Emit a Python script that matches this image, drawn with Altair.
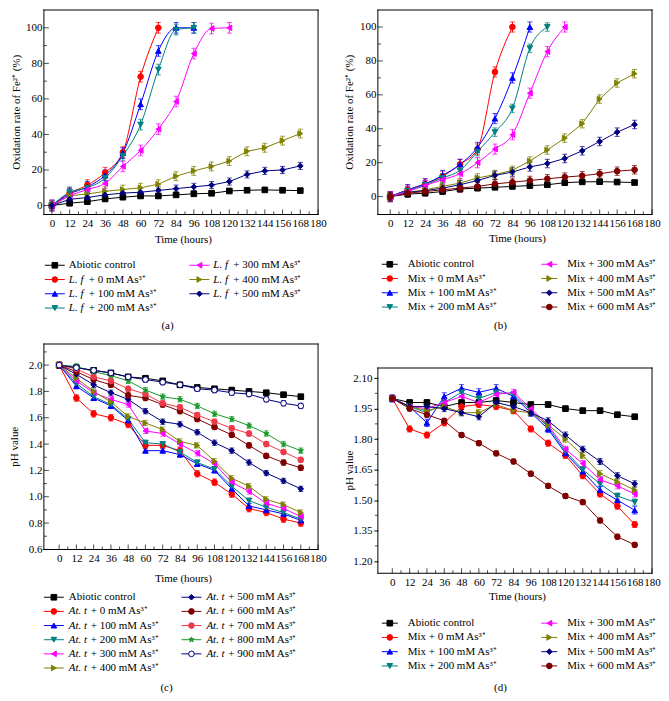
import altair as alt
import pandas as pd

FONT = "Liberation Serif"
FS = 11
T = [0, 12, 24, 36, 48, 60, 72, 84, 96, 108, 120, 132, 144, 156, 168]
X_TICKS = list(range(0, 181, 12))
X_MINOR = list(range(6, 180, 12))

BLACK, RED, BLUE, TEAL = "#000000", "#FF0000", "#0000FF", "#008080"
MAGENTA, OLIVE, NAVY, WINE = "#FF00FF", "#808000", "#000080", "#800000"
SALMON, GREEN = "#EE3B4B", "#1A9A2A"
STAR = ("M0,-1L0.2245,-0.309L0.9511,-0.309L0.3633,0.118L0.5878,0.809L0,0.382"
        "L-0.5878,0.809L-0.3633,0.118L-0.9511,-0.309L-0.2245,-0.309Z")

# ---------------- Panel (a): L. f, Fe2+ oxidation rate ----------------
A_PREFIX = ["", "L. f", "L. f", "L. f", "L. f", "L. f", "L. f"]
A_REST = ["Abiotic control", "+ 0 mM As³⁺", "+ 100 mM As³⁺", "+ 200 mM As³⁺",
          "+ 300 mM As³⁺", "+ 400 mM As³⁺", "+ 500 mM As³⁺"]
A_CTRL = [0, 1.3, 2.2, 3.7, 4.7, 5.4, 5.4, 6.0, 6.6, 6.9, 8.2, 8.6, 8.8, 8.6, 8.4]
A_0 = [0, 7, 11.5, 18.5, 30, 72.5, 100]
A_100 = [0, 6.5, 10.5, 17, 29.5, 57, 87, 100, 100]
A_200 = [0, 7.5, 10, 15.5, 28, 45.5, 76.5, 99, 100]
A_300 = [0, 5.5, 9, 12.5, 22, 31, 43, 58.5, 85.5, 99.6, 100]
A_400 = [0, 5.5, 6.5, 8, 9, 10, 12, 16.5, 19.5, 22, 25, 30.5, 32.5, 36.5, 40.5]
A_500 = [0, 3.5, 4.5, 6, 7, 7.5, 8.5, 9.5, 10.5, 11.5, 13.5, 17.5, 19.5, 20, 22.3]
A_ERR = [0.8, 3, 3, 3, 3, 2.5, 2]

# ---------------- Panel (b): Mix, Fe2+ oxidation rate ----------------
B_REST = ["Abiotic control", "Mix + 0 mM As³⁺", "Mix + 100 mM As³⁺", "Mix + 200 mM As³⁺",
          "Mix + 300 mM As³⁺", "Mix + 400 mM As³⁺", "Mix + 500 mM As³⁺", "Mix + 600 mM As³⁺"]
B_CTRL = [0, 1.5, 2, 3, 4.5, 5, 5.5, 6, 6.5, 7, 8.2, 8.7, 8.8, 8.6, 8.3]
B_0 = [0, 4, 7.5, 12, 19, 28, 73.5, 100]
B_100 = [0, 4, 7.5, 12.5, 19, 29, 46, 70, 100]
B_200 = [0, 3.5, 7, 11, 15.5, 26.5, 38, 52, 87.5, 100]
B_300 = [0, 3, 6.5, 10, 13.5, 20, 28, 36.5, 61, 85.5, 100]
B_400 = [0, 2.5, 4, 6, 8, 11, 13, 15.5, 21, 27.5, 34.5, 43, 57.5, 67, 72.5]
B_500 = [0, 2.5, 3.5, 5, 7, 9.5, 12.5, 14.5, 17.5, 19.5, 22.5, 27, 32.5, 38, 42.5]
B_600 = [0, 2, 3, 4, 5, 6, 7.5, 8.5, 9.5, 10.5, 11.5, 12.3, 13.5, 15, 15.8]
B_ERR = [0.8, 3, 3, 2.5, 3, 2.5, 2.5, 2.5]

# ---------------- Panel (c): At. t, pH ----------------
C_PREFIX = [""] + ["At. t"] * 10
C_REST = ["Abiotic control"] + ["+ %d mM As³⁺" % c for c in (0, 100, 200, 300, 400, 500, 600, 700, 800, 900)]
C_CTRL = [2.0, 1.98, 1.96, 1.94, 1.91, 1.90, 1.88, 1.85, 1.83, 1.82, 1.81, 1.80, 1.79, 1.775, 1.76]
C_0 = [2.0, 1.75, 1.63, 1.60, 1.55, 1.39, 1.39, 1.35, 1.175, 1.11, 1.02, 0.91, 0.88, 0.83, 0.80]
C_100 = [2.0, 1.84, 1.75, 1.69, 1.58, 1.35, 1.35, 1.32, 1.25, 1.20, 1.06, 0.93, 0.90, 0.87, 0.82]
C_200 = [2.0, 1.86, 1.76, 1.70, 1.59, 1.41, 1.40, 1.34, 1.26, 1.21, 1.08, 0.97, 0.92, 0.88, 0.83]
C_300 = [2.0, 1.88, 1.79, 1.74, 1.70, 1.50, 1.48, 1.40, 1.33, 1.25, 1.11, 1.04, 0.95, 0.91, 0.85]
C_400 = [2.0, 1.90, 1.80, 1.72, 1.61, 1.56, 1.51, 1.42, 1.39, 1.27, 1.14, 1.08, 0.98, 0.94, 0.88]
C_500 = [2.0, 1.93, 1.85, 1.79, 1.74, 1.65, 1.57, 1.55, 1.49, 1.41, 1.35, 1.26, 1.18, 1.12, 1.06]
C_600 = [2.0, 1.95, 1.89, 1.85, 1.77, 1.75, 1.70, 1.65, 1.59, 1.53, 1.47, 1.39, 1.31, 1.26, 1.22]
C_700 = [2.0, 1.97, 1.91, 1.88, 1.82, 1.78, 1.71, 1.68, 1.62, 1.57, 1.52, 1.48, 1.40, 1.34, 1.28]
C_800 = [2.0, 1.99, 1.95, 1.92, 1.88, 1.81, 1.76, 1.74, 1.69, 1.63, 1.59, 1.54, 1.48, 1.40, 1.35]
C_900 = [2.0, 1.98, 1.96, 1.94, 1.91, 1.89, 1.87, 1.85, 1.82, 1.81, 1.79, 1.78, 1.74, 1.71, 1.69]
C_ERR = [0.015, 0.025, 0.02, 0.02, 0.02, 0.02, 0.02, 0.02, 0.02, 0.02, 0.02]

# ---------------- Panel (d): Mix, pH ----------------
D_REST = B_REST
D_CTRL = [2.00, 1.98, 1.98, 1.96, 1.98, 1.98, 1.99, 1.98, 1.97, 1.97, 1.95, 1.94, 1.94, 1.92, 1.91]
D_0 = [2.00, 1.85, 1.82, 1.88, 1.96, 1.97, 1.96, 1.94, 1.85, 1.78, 1.72, 1.62, 1.53, 1.47, 1.38]
D_100 = [2.00, 1.96, 1.88, 2.01, 2.05, 2.03, 2.05, 2.01, 1.93, 1.85, 1.73, 1.64, 1.55, 1.50, 1.45]
D_200 = [2.00, 1.96, 1.93, 1.98, 2.03, 2.00, 2.03, 2.02, 1.94, 1.86, 1.74, 1.65, 1.58, 1.52, 1.49]
D_300 = [2.00, 1.96, 1.95, 1.98, 2.01, 1.98, 2.02, 2.03, 1.95, 1.87, 1.75, 1.68, 1.60, 1.57, 1.53]
D_400 = [2.00, 1.96, 1.94, 1.96, 1.93, 1.93, 1.97, 1.94, 1.93, 1.87, 1.80, 1.72, 1.63, 1.59, 1.55]
D_500 = [2.00, 1.96, 1.96, 1.95, 1.93, 1.91, 1.98, 1.96, 1.93, 1.89, 1.82, 1.75, 1.69, 1.62, 1.58]
D_600 = [2.00, 1.95, 1.92, 1.89, 1.82, 1.78, 1.73, 1.69, 1.63, 1.57, 1.52, 1.49, 1.40, 1.32, 1.28]
D_ERR = [0.012, 0.015, 0.018, 0.015, 0.015, 0.015, 0.015, 0.012]

COL8 = [BLACK, RED, BLUE, TEAL, MAGENTA, OLIVE, NAVY, WINE]
SHP8 = ["square", "circle", "triangle-up", "triangle-down", "triangle-left",
        "triangle-right", "diamond", "circle"]

PANELS = {
    "a": dict(prefix=A_PREFIX, rest=A_REST, values=[A_CTRL, A_0, A_100, A_200, A_300, A_400, A_500],
              err=A_ERR, colors=COL8[:7], shapes=SHP8[:7], fills=COL8[:7],
              smooth=[False, True, True, True, True, False, False],
              xdom=[-5.4, 180], ydom=[-5, 110], H=205, yoff=0,
              yticks=[0, 20, 40, 60, 80, 100], yminor=[10, 30, 50, 70, 90], yfmt="d",
              outward=False, ytitle="Oxidation rate of Fe²⁺ (%)", ytx=-27,
              tx=[25, 170], line=[24, 4], row0=256, dy=14.3, nleft=4, pw=20,
              timey=231, label="(a)", labx=124, laby=317),
    "b": dict(prefix=[""] * 8, rest=B_REST,
              values=[B_CTRL, B_0, B_100, B_200, B_300, B_400, B_500, B_600],
              err=B_ERR, colors=COL8, shapes=SHP8, fills=COL8,
              smooth=[False, True, True, True, True, False, False, False],
              xdom=[-8.5, 180], ydom=[-10.5, 110], H=205, yoff=0,
              yticks=[0, 20, 40, 60, 80, 100], yminor=[10, 30, 50, 70, 90], yfmt="d",
              outward=False, ytitle="Oxidation rate of Fe²⁺ (%)", ytx=-28,
              tx=[30, 190], line=[26, 10], row0=255, dy=14.3, nleft=4, pw=0,
              timey=230, label="(b)", labx=123, laby=317),
    "c": dict(prefix=C_PREFIX, rest=C_REST,
              values=[C_CTRL, C_0, C_100, C_200, C_300, C_400, C_500, C_600, C_700, C_800, C_900],
              err=C_ERR,
              colors=COL8 + [SALMON, GREEN, NAVY],
              shapes=SHP8 + ["circle", STAR, "circle"],
              fills=COL8 + [SALMON, GREEN, "#FFFFFF"],
              smooth=[False] * 11,
              xdom=[-10.6, 180], ydom=[0.6, 2.16], H=206, yoff=0,
              yticks=[0.6, 0.8, 1.0, 1.2, 1.4, 1.6, 1.8, 2.0],
              yminor=[0.7, 0.9, 1.1, 1.3, 1.5, 1.7, 1.9, 2.1], yfmt=".1f",
              outward=False, ytitle="pH value", ytx=-29,
              tx=[25, 163], line=[25, 5], row0=254, dy=14.2, nleft=6, pw=22,
              timey=236, label="(c)", labx=123, laby=345),
    "d": dict(prefix=[""] * 8, rest=D_REST,
              values=[D_CTRL, D_0, D_100, D_200, D_300, D_400, D_500, D_600],
              err=D_ERR, colors=COL8, shapes=SHP8, fills=COL8,
              smooth=[False] * 8,
              xdom=[-10, 180], ydom=[1.14, 2.15], H=206, yoff=24,
              yticks=[1.20, 1.35, 1.50, 1.65, 1.80, 1.95, 2.10],
              yminor=[1.275, 1.425, 1.575, 1.725, 1.875, 2.025], yfmt=".2f",
              outward=True, ytitle="pH value", ytx=-28,
              tx=[30, 190], line=[26, 10], row0=256, dy=14.3, nleft=4, pw=0,
              timey=230, label="(d)", labx=123, laby=321),
}

W = 275


def make_panel(p):
    H = p["H"]
    off = p["yoff"]
    Hc = H + off
    rows = []
    for i, vals in enumerate(p["values"]):
        for j, v in enumerate(vals):
            rows.append(dict(key=i, t=T[j], v=v, lo=v - p["err"][i], hi=v + p["err"][i],
                             color=p["colors"][i], shape=p["shapes"][i], fill=p["fills"][i],
                             smooth=p["smooth"][i]))
    df = pd.DataFrame(rows)

    XS = alt.Scale(domain=p["xdom"], nice=False, zero=False)
    YS = alt.Scale(domain=p["ydom"], nice=False, zero=False, range=[Hc, off])
    XA = alt.Axis(values=X_TICKS, format="d", ticks=False, tickSize=0, labelPadding=3,
                  domain=False, grid=False, title=None, labelFlush=False, labelOverlap=False,
                  labelFont=FONT, labelFontSize=FS, labelColor="black")
    YA = alt.Axis(values=p["yticks"], format=p["yfmt"], ticks=p["outward"],
                  tickSize=4 if p["outward"] else 0, tickColor="black", tickWidth=1,
                  labelPadding=2, domain=False, grid=False, title=None,
                  labelFlush=False, labelOverlap=False,
                  labelFont=FONT, labelFontSize=FS, labelColor="black")
    X = alt.X("t:Q", scale=XS, axis=XA)
    col = alt.Color("color:N", scale=None)

    layers = []
    for flag, interp in ((False, "linear"), (True, "monotone")):
        sub = df[df.smooth == flag]
        if len(sub):
            layers.append(alt.Chart(sub).mark_line(strokeWidth=1, interpolate=interp).encode(
                x=X, y=alt.Y("v:Q", scale=YS, axis=YA), color=col, detail="key:N"))
    layers.append(alt.Chart(df).mark_rule(strokeWidth=1).encode(
        x=X, y=alt.Y("lo:Q", scale=YS, axis=YA), y2="hi:Q", color=col))
    for f in ("lo", "hi"):
        layers.append(alt.Chart(df).mark_tick(orient="horizontal", size=5, thickness=1).encode(
            x=X, y=alt.Y(f + ":Q", scale=YS, axis=YA), color=col))
    layers.append(alt.Chart(df).mark_point(filled=True, size=32, opacity=1, strokeWidth=1).encode(
        x=X, y=alt.Y("v:Q", scale=YS, axis=YA),
        shape=alt.Shape("shape:N", scale=None),
        fill=alt.Fill("fill:N", scale=None),
        stroke=alt.Stroke("color:N", scale=None)))
    # inward x ticks (major + minor)
    layers.append(alt.Chart(pd.DataFrame({"xt": X_TICKS})).mark_tick(
        orient="vertical", size=5, thickness=1, color="black").encode(
        x=alt.X("xt:Q", scale=XS, axis=XA), y=alt.value(Hc - 2.5)))
    layers.append(alt.Chart(pd.DataFrame({"xt": X_MINOR})).mark_tick(
        orient="vertical", size=3, thickness=1, color="black").encode(
        x=alt.X("xt:Q", scale=XS, axis=XA), y=alt.value(Hc - 1.5)))
    # y ticks
    if not p["outward"]:
        layers.append(alt.Chart(pd.DataFrame({"yt": p["yticks"]})).mark_tick(
            orient="horizontal", size=5, thickness=1, color="black").encode(
            y=alt.Y("yt:Q", scale=YS, axis=YA), x=alt.value(2.5)))
        layers.append(alt.Chart(pd.DataFrame({"yt": p["yminor"]})).mark_tick(
            orient="horizontal", size=3, thickness=1, color="black").encode(
            y=alt.Y("yt:Q", scale=YS, axis=YA), x=alt.value(1.5)))
    else:
        layers.append(alt.Chart(pd.DataFrame({"yt": p["yminor"]})).mark_tick(
            orient="horizontal", size=3, thickness=1, color="black").encode(
            y=alt.Y("yt:Q", scale=YS, axis=YA), x=alt.value(-1.5)))
    main = alt.layer(*layers)

    # custom legend + annotations (pixel positions)
    lrows = []
    for i in range(len(p["values"])):
        c = 0 if i < p["nleft"] else 1
        r = i if c == 0 else i - p["nleft"]
        tx = p["tx"][c]
        x1, x2 = tx - p["line"][0], tx - p["line"][1]
        pre = p["prefix"][i]
        lrows.append(dict(x1=x1, x2=x2, mx=(x1 + x2) / 2, ly=off + p["row0"] + r * p["dy"],
                          tx=tx, rx=tx + (p["pw"] if pre else 0), pre=pre, rest=p["rest"][i],
                          color=p["colors"][i], shape=p["shapes"][i], fill=p["fills"][i]))
    ldf = pd.DataFrame(lrows)
    LX = lambda f: alt.X(f, scale=None, axis=None)
    LY = alt.Y("ly:Q", scale=None, axis=None)
    # plot frame drawn as long thin ticks (horizontal: top/bottom, vertical: left/right)
    hdf = pd.DataFrame({"hy": [off, Hc]})
    vdf = pd.DataFrame({"vx": [0, W]})
    leg = [
        alt.Chart(hdf).mark_tick(orient="horizontal", size=W + 1, thickness=1, color="#000000",
                                 opacity=1).encode(
            x=alt.value(W / 2), y=alt.Y("hy:Q", scale=None, axis=None)),
        alt.Chart(vdf).mark_tick(orient="vertical", size=H + 1, thickness=1, color="#000000",
                                 opacity=1).encode(
            x=alt.X("vx:Q", scale=None, axis=None), y=alt.value(off + H / 2)),
        alt.Chart(ldf).mark_rule(strokeWidth=1).encode(x=LX("x1:Q"), x2="x2:Q", y=LY, color=col),
        alt.Chart(ldf).mark_point(filled=True, size=32, opacity=1, strokeWidth=1).encode(
            x=LX("mx:Q"), y=LY, shape=alt.Shape("shape:N", scale=None),
            fill=alt.Fill("fill:N", scale=None), stroke=alt.Stroke("color:N", scale=None)),
        alt.Chart(ldf).mark_text(align="left", baseline="middle", font=FONT, fontSize=FS,
                                 color="black").encode(x=LX("rx:Q"), y=LY, text="rest:N"),
    ]
    pdf = ldf[ldf.pre != ""]
    if len(pdf):
        leg.append(alt.Chart(pdf).mark_text(align="left", baseline="middle", font=FONT,
                                            fontSize=FS, fontStyle="italic", color="black").encode(
            x=LX("tx:Q"), y=LY, text="pre:N"))
    adf = pd.DataFrame({"ax": [140, p["labx"]], "ay": [off + p["timey"], off + p["laby"]],
                        "txt": ["Time (hours)", p["label"]]})
    leg.append(alt.Chart(adf).mark_text(align="center", baseline="middle", font=FONT,
                                        fontSize=FS, color="black").encode(
        x=LX("ax:Q"), y=alt.Y("ay:Q", scale=None, axis=None), text="txt:N"))
    ydf = pd.DataFrame({"ax": [p["ytx"]], "ay": [off + H / 2], "txt": [p["ytitle"]]})
    leg.append(alt.Chart(ydf).mark_text(align="center", baseline="middle", angle=270, font=FONT,
                                        fontSize=FS, color="black").encode(
        x=LX("ax:Q"), y=alt.Y("ay:Q", scale=None, axis=None), text="txt:N"))

    return alt.layer(main, alt.layer(*leg)).resolve_scale(
        x="independent", y="independent").properties(width=W, height=Hc)


pa = make_panel(PANELS["a"])
pb = make_panel(PANELS["b"])
pc = make_panel(PANELS["c"])
pdd = make_panel(PANELS["d"])

chart = alt.concat(pa, pb, pc, pdd, columns=2, bounds="flush",
                   spacing=alt.RowColnumber(row=130, column=60),
                   padding={"left": 0, "top": 0, "right": 0, "bottom": 0},
                   background="white").configure_view(stroke="transparent")

chart.save("out.html", embed_options={"renderer": "svg", "actions": False})
